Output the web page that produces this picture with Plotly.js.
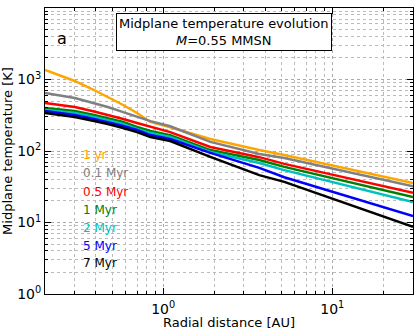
<!DOCTYPE html>
<html>
<head>
<meta charset="utf-8">
<script src="https://cdn.plot.ly/plotly-3.0.1.min.js"></script>
<style>body{margin:0;padding:0;background:#fff}</style>
</head>
<body>
<div id="plot" style="width:415px;height:330px"></div>
<script>
// radial distance grid [AU]
var radius = [0.2, 0.3, 0.39, 0.47, 0.58, 0.7, 0.84, 1.1, 1.9, 3.7, 5.2, 30];

// midplane temperature [K]
var t_1yr   = [1358, 953, 713, 569, 440, 340, 255, 215, 147, 103, 88, 35.7];
var t_01myr = [647, 551, 465, 412, 350, 299, 262, 222, 134, 91, 80, 32];
var t_05myr = [469, 412, 356, 319, 280, 246, 217, 184, 114, 82, 66, 26];
var t_1myr  = [399, 363, 319, 289, 255, 217, 191, 167, 103, 75, 60, 22.7];
var t_2myr  = [374, 340, 299, 271, 239, 203, 178, 157, 97, 68, 54, 19.4];
var t_5myr  = [363, 319, 280, 255, 224, 197, 167, 147, 94, 58, 43, 12.3];
var t_7myr  = [340, 299, 262, 239, 210, 184, 157, 138, 83, 46, 37, 8.7];

var labels = ['1 yr', '0.1 Myr', '0.5 Myr', '1 Myr', '2 Myr', '5 Myr', '7 Myr'];
var colors = ['#FFA500', '#808080', '#FF0000', '#008000', '#00BFBF', '#0000FF', '#000000'];
var series = [t_1yr, t_01myr, t_05myr, t_1myr, t_2myr, t_5myr, t_7myr];

var xTickVals = [1, 10];
var xTickText = ['10<sup>0</sup>', '10<sup>1</sup>'];
var yTickVals = [1, 10, 100, 1000, 10000];
var yTickText = ['10<sup>0</sup>', '10<sup>1</sup>', '10<sup>2</sup>', '10<sup>3</sup>', '10<sup>4</sup>'];

// minor tick positions: 2..9 within each decade
function minorTicks(decades) {
  var out = [];
  decades.forEach(function (d) {
    for (var k = 2; k <= 9; k++) out.push(k * d);
  });
  return out;
}
var xMinor = minorTicks([0.1, 1, 10]);
var yMinor = minorTicks([1, 10, 100, 1000]);

var data = [];
for (var i = 0; i < series.length; i++) {
  data.push({
    type: 'scatter',
    mode: 'lines',
    x: radius,
    y: series[i],
    name: labels[i],
    line: {color: colors[i], width: 2.5}
  });
}

var annotations = [
  {
    xref: 'paper', yref: 'paper', x: 0.486, y: 0.916,
    xanchor: 'center', yanchor: 'middle',
    text: 'Midplane temperature evolution<br><i>M</i>=0.55 MMSN',
    showarrow: false, font: {size: 13, color: '#000'},
    bordercolor: '#000', borderwidth: 1, borderpad: 2, bgcolor: '#fff'
  },
  {
    xref: 'paper', yref: 'paper', x: 0.046, y: 0.895,
    xanchor: 'center', yanchor: 'middle',
    text: 'a', showarrow: false, font: {size: 16, color: '#000'}
  }
];
var labelY = [0.486, 0.423, 0.357, 0.294, 0.231, 0.168, 0.108];
for (var j = 0; j < labels.length; j++) {
  annotations.push({
    xref: 'paper', yref: 'paper', x: 0.098, y: labelY[j],
    xanchor: 'left', yanchor: 'middle',
    text: labels[j], showarrow: false,
    font: {size: 12, color: colors[j]}
  });
}

var gridStyle = {showgrid: true, gridcolor: '#aaa', griddash: 'dot', gridwidth: 1};

var layout = {
  width: 415, height: 330,
  margin: {l: 45, r: 2, t: 8, b: 36},
  paper_bgcolor: '#fff', plot_bgcolor: '#fff',
  font: {family: 'DejaVu Sans', size: 14, color: '#000'},
  showlegend: false,
  xaxis: Object.assign({
    type: 'log', range: [Math.log10(0.2), Math.log10(30)],
    tickmode: 'array', tickvals: xTickVals, ticktext: xTickText,
    ticks: 'inside', ticklen: 6, tickcolor: '#000', ticklabelstandoff: 2,
    showline: true, linecolor: '#000', linewidth: 1, mirror: 'allticks',
    zeroline: false,
    minor: {tickmode: 'array', tickvals: xMinor, ticks: 'inside', ticklen: 3, tickcolor: '#000',
            showgrid: true, gridcolor: '#bbb', griddash: 'dot'},
    title: {text: 'Radial distance [AU]', font: {size: 13}, standoff: 0}
  }, gridStyle),
  yaxis: Object.assign({
    type: 'log', range: [0, 4],
    tickmode: 'array', tickvals: yTickVals, ticktext: yTickText,
    ticks: 'inside', ticklen: 6, tickcolor: '#000',
    showline: true, linecolor: '#000', linewidth: 1, mirror: 'allticks',
    zeroline: false,
    minor: {tickmode: 'array', tickvals: yMinor, ticks: 'inside', ticklen: 3, tickcolor: '#000',
            showgrid: true, gridcolor: '#bbb', griddash: 'dot'},
    title: {text: 'Midplane temperature [K]', font: {size: 13}, standoff: 4}
  }, gridStyle),
  annotations: annotations
};

Plotly.newPlot('plot', data, layout, {displayModeBar: false, staticPlot: true});
</script>
</body>
</html>
